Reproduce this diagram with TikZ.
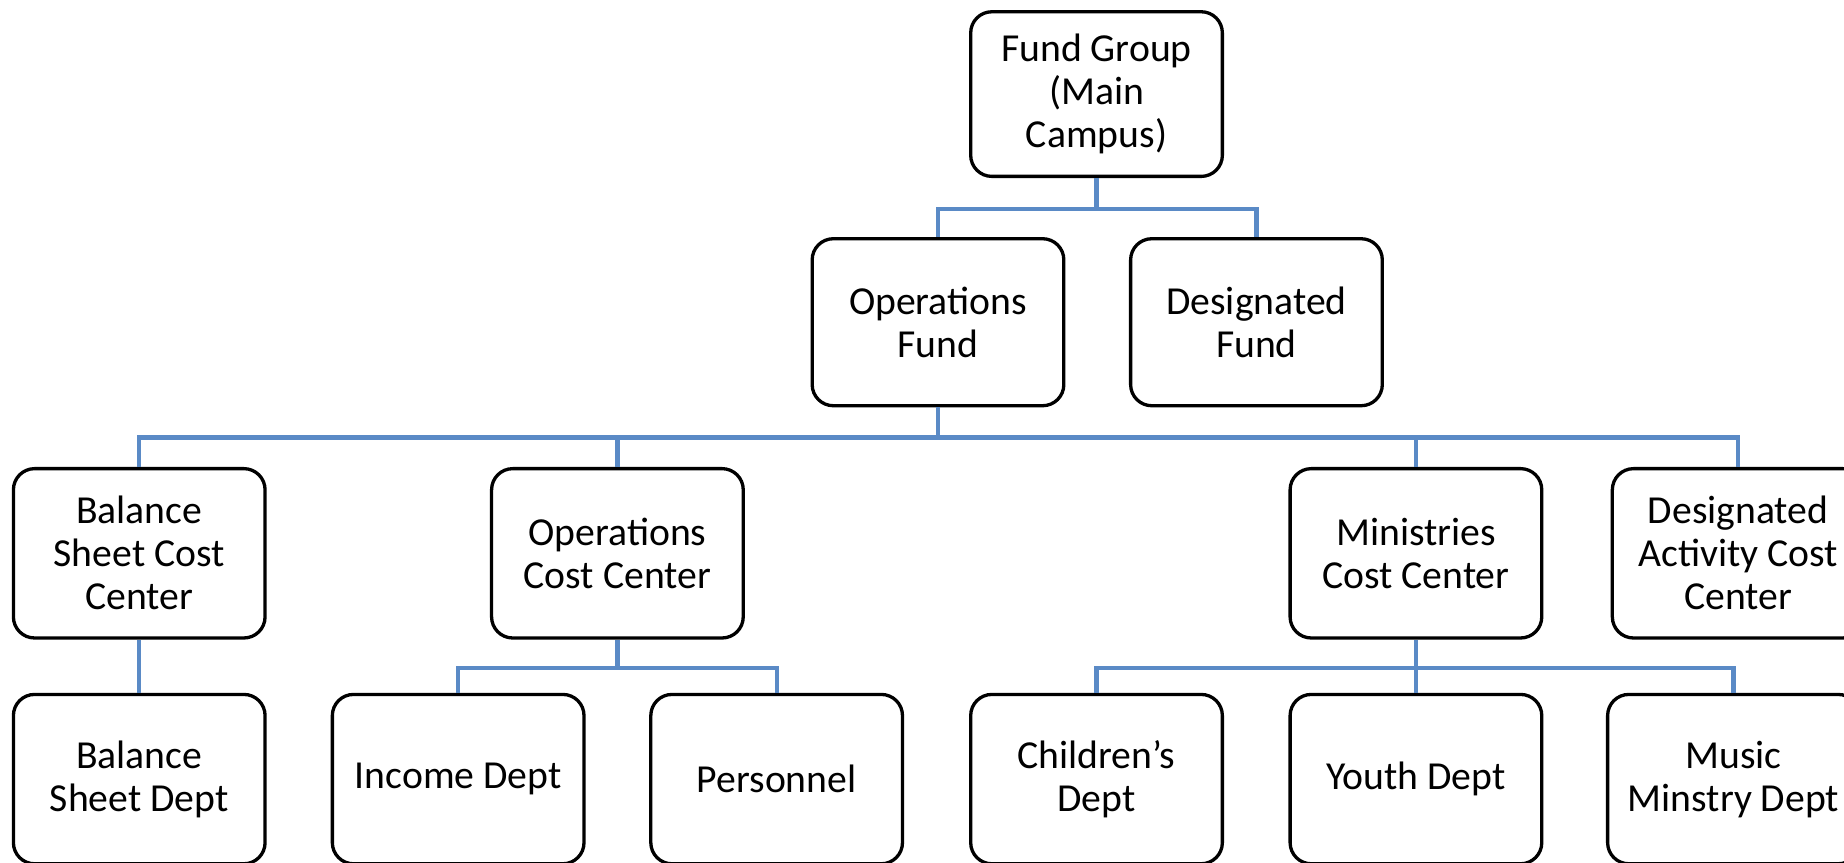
\documentclass[tikz,border=0pt]{standalone}
\usepackage{fontspec}
\setmainfont{Carlito}
\usepackage{tikz}
\usetikzlibrary{positioning,calc}
\definecolor{linkblue}{HTML}{5A8AC6}

\begin{document}
\begin{tikzpicture}[box/.style = {draw, line width=2pt, rounded corners=0.45cm, align=center, minimum width=5.35cm, minimum height=3.6cm, inner sep=2pt, font=\fontsize{24}{26}\selectfont},
    link/.style = {draw=linkblue, line width=2.6pt}]
    \useasboundingbox (0,0) rectangle (39.2,18.325);
    \node[box, minimum height=3.5cm] (root) at (23.31,16.325) {Fund Group\\(Main\\Campus)};
    \node[box, minimum height=3.55cm] (opsfund) at (19.94,11.475) {Operations\\Fund};
    \node[box, minimum height=3.55cm] (desfund) at (26.71,11.475) {Designated\\Fund};
    \node[box] (balcc) at (2.96,6.5625) {Balance\\Sheet Cost\\Center};
    \node[box] (opscc) at (13.125,6.5625) {Operations\\Cost Center};
    \node[box] (mincc) at (30.1,6.5625) {Ministries\\Cost Center};
    \node[box] (actcc) at (36.95,6.5625) {Designated\\Activity Cost\\Center};
    \node[box] (baldept) at (2.96,1.7625) {Balance\\Sheet Dept};
    \node[box] (income) at (9.74,1.7625) {Income Dept};
    \node[box] (personnel) at (16.51,1.7625) {Personnel};
    \node[box] (children) at (23.31,1.7625) {Children's\\Dept};
    \node[box] (youth) at (30.1,1.7625) {Youth Dept};
    \node[box] (music) at (36.85,1.7625) {Music\\Minstry Dept};
    \coordinate (j1) at (23.31,13.875);
    \coordinate (j2) at (19.94,9.025);
    \coordinate (j3) at (13.125,4.125);
    \coordinate (j4) at (30.1,4.125);
    \draw[link] (root) -- (j1) -| (opsfund);
    \draw[link] (j1) -| (desfund);
    \draw[link] (opsfund) -- (j2) -| (balcc);
    \draw[link] (j2) -| (opscc);
    \draw[link] (j2) -| (mincc);
    \draw[link] (j2) -| (actcc);
    \draw[link] (balcc) -- (baldept);
    \draw[link] (opscc) -- (j3) -| (income);
    \draw[link] (j3) -| (personnel);
    \draw[link] (mincc) -- (j4) -| (children);
    \draw[link] (j4) -- (youth);
    \draw[link] (j4) -| (music);
\end{tikzpicture}
\end{document}
